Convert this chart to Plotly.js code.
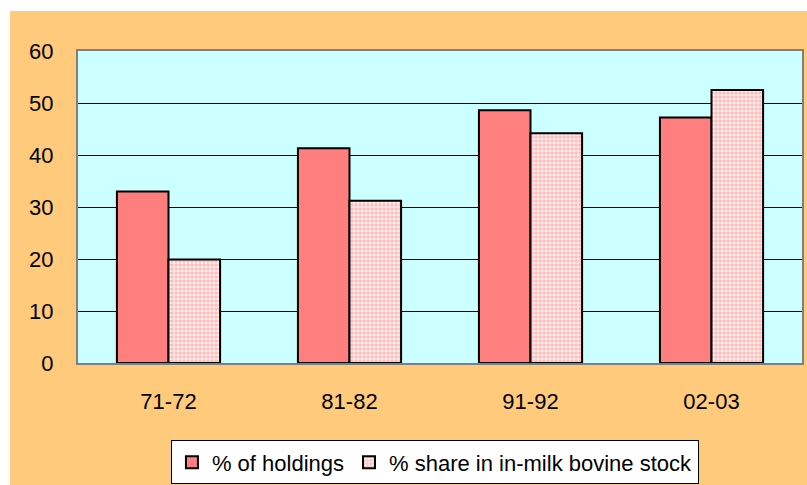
<!DOCTYPE html>
<html>
<head>
<meta charset="utf-8">
<script src="https://cdn.plot.ly/plotly-3.0.1.min.js"></script>
<style>html,body{margin:0;padding:0;background:#fff;}#chart{width:807px;height:485px;}</style>
</head>
<body>
<div id="chart"></div>
<script>
// Data
var periods = ["71-72", "81-82", "91-92", "02-03"];
var holdings = [33.0, 41.3, 48.6, 47.2];
var bovineShare = [19.9, 31.2, 44.2, 52.5];
var seriesNames = ["% of holdings", "% share in in-milk bovine stock"];
var yTicks = [0, 10, 20, 30, 40, 50, 60];

var FONT = "Liberation Sans, Arial, sans-serif";

var traces = [
  {
    type: "bar", name: seriesNames[0], x: periods, y: holdings,
    marker: {color: "#FF7F7F", line: {color: "#000000", width: 2}},
    hoverinfo: "skip"
  },
  {
    type: "bar", name: seriesNames[1], x: periods, y: bovineShare,
    marker: {
      color: "#FFFFFF",
      line: {color: "#000000", width: 2},
      pattern: {shape: "+", fgcolor: "#FF9E9E", bgcolor: "#FFF0F0", size: 4, solidity: 0.35}
    },
    hoverinfo: "skip"
  }
];

var L = 78, R = 802.5, T = 51, B = 362.7, W = 807, H = 485;
var pw = R - L, ph = B - T;
function px2x(p){ return (p - L) / pw; }
function py2y(p){ return (B - p) / ph; }

var layout = {
  width: W, height: H,
  margin: {l: L, r: W - R, t: T, b: H - B, pad: 0, autoexpand: false},
  paper_bgcolor: "#FFFFFF",
  plot_bgcolor: "#CCFFFF",
  font: {family: FONT, size: 22, color: "#000000"},
  barmode: "group",
  bargap: 0.43,
  bargroupgap: 0,
  showlegend: true,
  legend: {
    orientation: "h",
    x: px2x(171), xanchor: "left",
    y: py2y(440), yanchor: "top",
    bgcolor: "#FFFFFF",
    bordercolor: "#000000", borderwidth: 1,
    font: {family: FONT, size: 22, color: "#000000"},
    itemwidth: 30,
    traceorder: "normal"
  },
  xaxis: {
    type: "category",
    showgrid: false, zeroline: false,
    showline: true, mirror: true, linecolor: "#7F7F7F", linewidth: 2,
    ticks: "", ticklabelstandoff: 18,
    tickfont: {family: FONT, size: 22, color: "#000000"},
    fixedrange: true
  },
  yaxis: {
    range: [0, 60],
    tickvals: yTicks,
    ticktext: yTicks.map(String),
    showgrid: true, gridcolor: "#000000", gridwidth: 1,
    zeroline: false,
    showline: true, mirror: true, linecolor: "#7F7F7F", linewidth: 2,
    ticks: "", ticklabelstandoff: 18,
    tickfont: {family: FONT, size: 22, color: "#000000"},
    fixedrange: true
  },
  shapes: [
    {type: "rect", xref: "paper", yref: "paper", layer: "below",
     x0: px2x(10), x1: px2x(W + 5), y0: py2y(H + 5), y1: py2y(11),
     fillcolor: "#FFCA7C", line: {width: 0}},
    {type: "rect", xref: "paper", yref: "paper", layer: "below",
     x0: 0, x1: 1, y0: 0, y1: 1,
     fillcolor: "#CCFFFF", line: {width: 0}}
  ]
};

Plotly.newPlot("chart", traces, layout, {displayModeBar: false, staticPlot: true});
</script>
</body>
</html>
